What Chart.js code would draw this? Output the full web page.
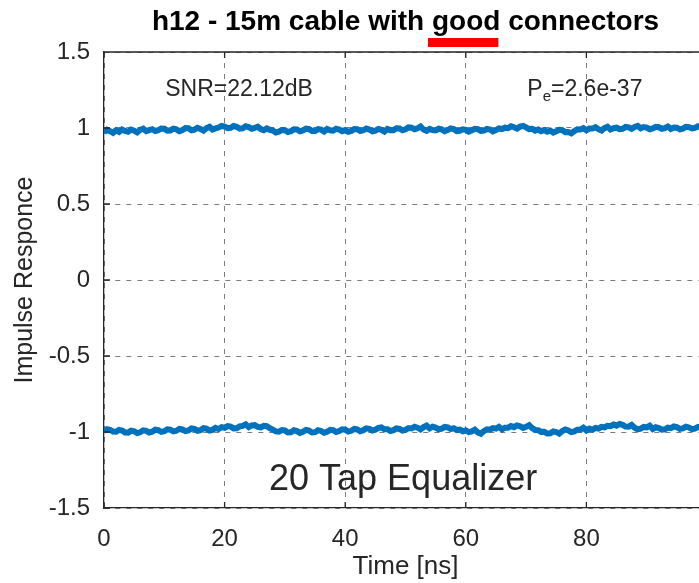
<!DOCTYPE html>
<html>
<head>
<meta charset="utf-8">
<title>h12 impulse response</title>
<script src="https://cdn.jsdelivr.net/npm/chart.js@4.4.0/dist/chart.umd.min.js"></script>
<style>
  html, body { margin: 0; padding: 0; background: #fff; overflow: hidden; }
  #wrap { width: 699px; height: 583px; overflow: hidden; }
</style>
</head>
<body>
<div id="wrap"><canvas id="myChart" width="760" height="583"></canvas></div>
<script>
// equalized impulse response, two samples per ns
const sampleStep = 0.5;
const upperTrace = [
  0.972, 0.988, 0.979, 0.968, 0.985, 0.974, 0.990, 0.981, 0.975, 0.989,
  0.982, 0.971, 0.988, 0.995, 0.979, 0.986, 0.992, 0.980, 0.986, 0.997,
  0.995, 0.983, 0.984, 0.996, 0.991, 0.979, 0.987, 0.999, 0.998, 0.985,
  0.989, 1.001, 0.994, 0.983, 0.999, 1.008, 0.990, 0.997, 1.003, 1.014,
  1.010, 0.999, 1.001, 1.013, 1.008, 0.996, 0.998, 1.011, 1.006, 0.995,
  1.000, 1.009, 0.993, 0.985, 0.997, 0.988, 0.983, 0.970, 0.976, 0.987,
  0.985, 0.973, 0.979, 0.991, 0.990, 0.978, 0.984, 0.996, 0.992, 0.981,
  0.981, 0.993, 0.989, 0.977, 0.994, 0.985, 0.983, 0.995, 0.990, 0.979,
  0.986, 0.975, 0.981, 0.993, 0.992, 0.980, 0.985, 0.996, 0.990, 0.978,
  0.983, 0.994, 0.988, 0.976, 0.994, 0.986, 0.986, 0.998, 0.997, 0.985,
  0.991, 1.004, 1.002, 0.992, 0.998, 1.010, 0.990, 0.981, 0.994, 0.986,
  0.984, 0.995, 0.991, 0.979, 0.986, 0.997, 0.993, 0.980, 0.982, 0.991,
  0.988, 0.976, 0.985, 0.995, 0.992, 0.981, 0.983, 0.994, 0.990, 0.978,
  0.986, 0.997, 0.993, 1.002, 0.999, 1.011, 1.005, 0.996, 1.009, 1.014,
  1.004, 0.993, 0.995, 0.983, 0.990, 0.979, 0.986, 0.975, 0.983, 0.970,
  0.979, 0.988, 0.986, 0.973, 0.974, 0.965, 0.980, 0.991, 0.990, 0.999,
  0.985, 0.996, 0.996, 1.005, 0.992, 0.983, 0.999, 1.008, 0.990, 0.999,
  1.002, 0.993, 0.995, 1.007, 1.004, 0.994, 1.007, 1.014, 0.998, 1.006,
  1.003, 0.992, 0.997, 1.008, 1.005, 0.995, 0.999, 1.010, 0.994, 1.003,
  1.002, 0.991, 0.996, 1.008, 1.006, 0.997, 1.001, 1.011, 1.005, 0.996,
  1.000
];
const lowerTrace = [
  -0.993, -0.981, -0.985, -0.997, -0.998, -0.986, -0.990, -1.003, -1.004, -0.991,
  -0.995, -1.007, -1.002, -0.989, -0.992, -1.003, -0.998, -0.985, -0.988, -0.999,
  -0.995, -0.982, -0.985, -0.996, -0.992, -0.980, -0.983, -0.994, -0.990, -0.977,
  -0.980, -0.992, -0.988, -0.975, -0.978, -0.990, -0.986, -0.973, -0.980, -0.968,
  -0.972, -0.961, -0.965, -0.976, -0.975, -0.963, -0.960, -0.950, -0.968, -0.957,
  -0.955, -0.966, -0.970, -0.959, -0.962, -0.975, -0.985, -0.996, -0.998, -0.987,
  -0.990, -1.003, -1.002, -0.989, -0.994, -1.006, -0.999, -0.986, -0.991, -1.003,
  -1.001, -0.988, -0.993, -1.005, -0.998, -0.986, -0.988, -1.000, -0.994, -0.982,
  -0.985, -0.997, -0.992, -0.980, -0.983, -0.995, -0.988, -0.976, -0.979, -0.990,
  -0.985, -0.973, -0.970, -0.982, -0.982, -0.994, -0.988, -0.976, -0.980, -0.991,
  -0.986, -0.974, -0.977, -0.966, -0.972, -0.983, -0.968, -0.958, -0.976, -0.965,
  -0.971, -0.982, -0.978, -0.966, -0.970, -0.981, -0.975, -0.987, -0.984, -0.995,
  -0.990, -1.001, -0.996, -0.985, -1.003, -1.012, -0.994, -0.983, -0.985, -0.974,
  -0.978, -0.966, -0.983, -0.972, -0.972, -0.961, -0.968, -0.957, -0.962, -0.973,
  -0.966, -0.955, -0.975, -0.986, -0.988, -0.999, -0.998, -1.010, -1.008, -0.996,
  -1.000, -1.011, -0.994, -0.983, -0.990, -1.001, -0.996, -0.985, -0.984, -0.972,
  -0.990, -0.978, -0.985, -0.973, -0.978, -0.966, -0.970, -0.959, -0.962, -0.951,
  -0.958, -0.947, -0.953, -0.964, -0.965, -0.954, -0.972, -0.983, -0.978, -0.967,
  -0.970, -0.959, -0.980, -0.969, -0.974, -0.985, -0.982, -0.971, -0.975, -0.964,
  -0.968, -0.979, -0.976, -0.965, -0.970, -0.981, -0.978, -0.967, -0.972, -0.961,
  -0.976
];
const xTicks = [0, 20, 40, 60, 80];
const yTicks = [-1.5, -1, -0.5, 0, 0.5, 1, 1.5];

const titleText = 'h12 - 15m cable with good connectors';
const snrText = 'SNR=22.12dB';
const peValue = '=2.6e-37';
const tapText = '20 Tap Equalizer';

const FONT = "'Liberation Sans', Arial, Helvetica, sans-serif";
const INK = '#262626';

const toPoints = arr => arr.map((v, i) => ({ x: i * sampleStep, y: v }));

// box edge on top plus inward ticks, matlab style
const axisFrame = {
  id: 'axisFrame',
  afterDraw(chart) {
    const { ctx, chartArea: a, scales: { x, y } } = chart;
    ctx.save();
    ctx.strokeStyle = INK;
    ctx.lineWidth = 1.3;
    ctx.beginPath();
    ctx.moveTo(a.left, a.top);
    ctx.lineTo(a.right, a.top);
    x.ticks.forEach(t => {
      const px = x.getPixelForValue(t.value);
      ctx.moveTo(px, a.bottom); ctx.lineTo(px, a.bottom - 6);
      ctx.moveTo(px, a.top); ctx.lineTo(px, a.top + 6);
    });
    y.ticks.forEach(t => {
      const py = y.getPixelForValue(t.value);
      ctx.moveTo(a.left, py); ctx.lineTo(a.left + 6, py);
    });
    ctx.stroke();
    ctx.restore();
  }
};

// title with the red mark under "good", and the text notes in the plot
const notes = {
  id: 'notes',
  afterDraw(chart) {
    const { ctx, chartArea: a, scales: { x, y } } = chart;
    ctx.save();
    ctx.fillStyle = '#000';
    ctx.textBaseline = 'alphabetic';
    ctx.font = 'bold 28px ' + FONT;
    const cx = (a.left + a.right) / 2;
    const fullW = ctx.measureText(titleText).width;
    const startX = cx - fullW / 2;
    ctx.textAlign = 'left';
    ctx.fillText(titleText, startX, 30);
    const pre = ctx.measureText('h12 - 15m cable with ').width;
    const goodW = ctx.measureText('good').width;
    ctx.fillStyle = '#ff0000';
    ctx.fillRect(startX + pre - 4, 38, goodW + 2, 9);

    ctx.fillStyle = INK;
    ctx.font = '23px ' + FONT;
    ctx.textAlign = 'center';
    ctx.textBaseline = 'middle';
    ctx.fillText(snrText, x.getPixelForValue(22.4), y.getPixelForValue(1.25));

    // P with subscript e
    let px = x.getPixelForValue(70.2);
    const py = y.getPixelForValue(1.25);
    ctx.textAlign = 'left';
    ctx.fillText('P', px, py);
    px += ctx.measureText('P').width;
    ctx.font = '15px ' + FONT;
    ctx.fillText('e', px, py + 7);
    px += ctx.measureText('e').width;
    ctx.font = '23px ' + FONT;
    ctx.fillText(peValue, px, py);

    ctx.font = '36px ' + FONT;
    ctx.textAlign = 'center';
    ctx.fillText(tapText, x.getPixelForValue(49.6), y.getPixelForValue(-1.316));
    ctx.restore();
  }
};

const traceStyle = {
  borderColor: '#0072BD',
  borderWidth: 6,
  pointRadius: 0,
  tension: 0,
  fill: false
};

const ctx = document.getElementById('myChart').getContext('2d');
const chart = new Chart(ctx, {
  type: 'line',
  data: {
    datasets: [
      Object.assign({ data: toPoints(upperTrace) }, traceStyle),
      Object.assign({ data: toPoints(lowerTrace) }, traceStyle)
    ]
  },
  options: {
    responsive: false,
    animation: false,
    devicePixelRatio: 1,
    layout: { padding: { top: 52, right: 53, left: 0, bottom: 0 } },
    plugins: { legend: { display: false }, tooltip: { enabled: false } },
    scales: {
      x: {
        type: 'linear',
        min: 0,
        max: 100,
        z: 1,
        afterBuildTicks(scale) { scale.ticks = xTicks.map(v => ({ value: v })); },
        afterFit(scale) { scale.height = 75; },
        ticks: { color: INK, font: { family: FONT, size: 24 }, padding: 17, maxRotation: 0, callback: v => String(v) },
        grid: { color: 'rgba(70,70,70,0.7)', lineWidth: 1, drawTicks: false },
        border: { color: INK, width: 1.3, dash: [5, 6] },
        title: { display: true, text: 'Time [ns]', color: INK, font: { family: FONT, size: 26 }, padding: { top: 0, bottom: 1 } }
      },
      y: {
        min: -1.5,
        max: 1.5,
        z: 1,
        afterBuildTicks(scale) { scale.ticks = yTicks.map(v => ({ value: v })); },
        afterFit(scale) { scale.width = 104; },
        ticks: { color: INK, font: { family: FONT, size: 24 }, padding: 14, callback: v => String(v) },
        grid: { color: 'rgba(70,70,70,0.7)', lineWidth: 1, drawTicks: false },
        border: { color: INK, width: 1.3, dash: [5, 6] },
        title: { display: true, text: 'Impulse Responce', color: INK, font: { family: FONT, size: 25 }, padding: { top: 10, bottom: 0 } }
      }
    }
  },
  plugins: [axisFrame, notes]
});
</script>
</body>
</html>
